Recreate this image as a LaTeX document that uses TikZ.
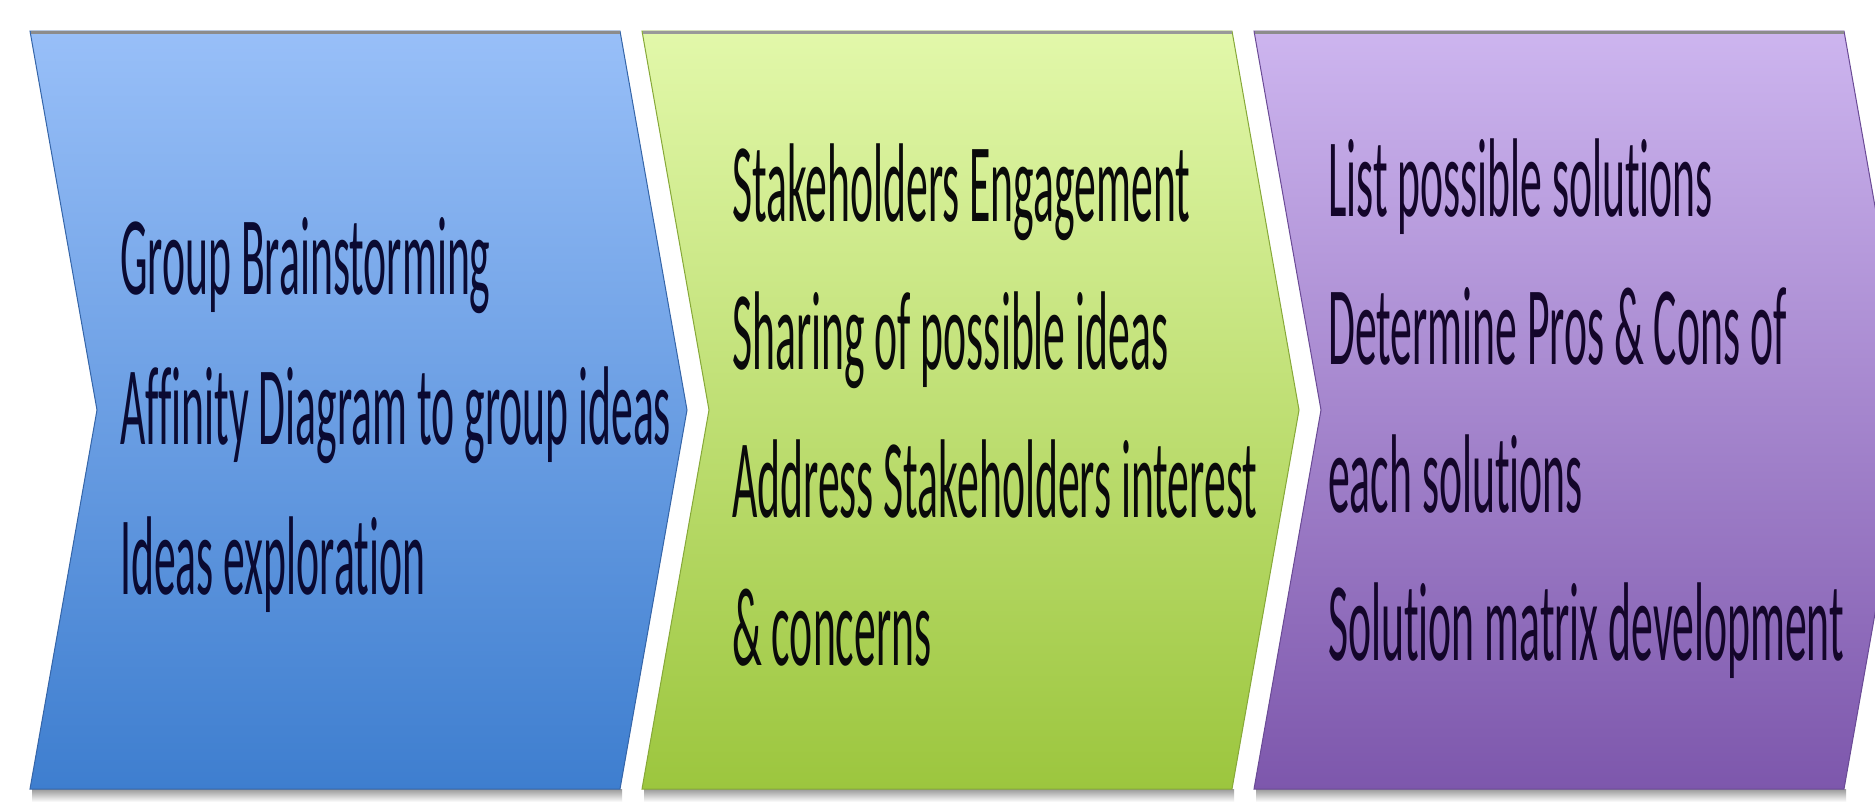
\documentclass[tikz,border=0pt]{standalone}
\usepackage{graphicx}
\usepackage{fontspec}
\setmainfont{Carlito}[RawFeature={-liga;-clig;-dlig}]
\definecolor{bluetop}{HTML}{98BFF8}
\definecolor{bluebot}{HTML}{3E7ECF}
\definecolor{blueedge}{HTML}{3565A8}
\definecolor{greentop}{HTML}{E2F8AA}
\definecolor{greenbot}{HTML}{9CC63E}
\definecolor{greenedge}{HTML}{86A838}
\definecolor{purptop}{HTML}{CDB5EF}
\definecolor{purpbot}{HTML}{7D57AC}
\definecolor{purpedge}{HTML}{6A4A95}
\definecolor{bluetext}{HTML}{0A0A32}
\definecolor{greentext}{HTML}{0A0A0A}
\definecolor{purptext}{HTML}{14062A}
\newcommand{\nar}[1]{\scalebox{0.39}[1]{#1}}
\begin{document}
\begin{tikzpicture}[x=1pt,y=-1pt,
  txt/.style={anchor=base west, inner sep=0pt, font=\fontsize{112}{134}\selectfont},
  chev/.style={line width=1pt},
  topline/.style={line width=3pt, draw=#1},
  shadowbar/.style={top color=black!40, bottom color=white}]
\useasboundingbox (0,0) rectangle (1875,803);
\clip (0,0) rectangle (1875,803);
\fill[white] (0,0) rectangle (1875,803);
% shadows
\shade[shadowbar] (32,789) rectangle (622,802);
\shade[shadowbar] (644,789) rectangle (1234,802);
\shade[shadowbar] (1256,789) rectangle (1846,802);
% chevrons
\shade[chev, top color=bluetop, bottom color=bluebot, draw=blueedge]
  (30,31) -- (620,31) -- (687,410) -- (620,789) -- (30,789) -- (97,410) -- cycle;
\shade[chev, top color=greentop, bottom color=greenbot, draw=greenedge]
  (642,31) -- (1232,31) -- (1299,410) -- (1232,789) -- (642,789) -- (709,410) -- cycle;
\shade[chev, top color=purptop, bottom color=purpbot, draw=purpedge]
  (1254,31) -- (1844,31) -- (1911,410) -- (1844,789) -- (1254,789) -- (1321,410) -- cycle;
\draw[topline=black!45] (31,32) -- (620,32);
\draw[topline=black!40] (643,32) -- (1232,32);
\draw[topline=black!45] (1255,32) -- (1844,32);
% texts
\node[txt, text=bluetext] (b1) at (120,294) {\nar{Group Brainstorming}};
\node[txt, text=bluetext] (b2) at (120,444) {\nar{Affinity Diagram to group ideas}};
\node[txt, text=bluetext] (b3) at (120,594) {\nar{Ideas exploration}};
\node[txt, text=greentext] (g1) at (732,221) {\nar{Stakeholders Engagement}};
\node[txt, text=greentext] (g2) at (732,369) {\nar{Sharing of possible ideas}};
\node[txt, text=greentext] (g3) at (732,517) {\nar{Address Stakeholders interest}};
\node[txt, text=greentext] (g4) at (732,665) {\nar{\& concerns}};
\node[txt, text=purptext] (p1) at (1328,216) {\nar{List possible solutions}};
\node[txt, text=purptext] (p2) at (1328,364) {\nar{Determine Pros \& Cons of}};
\node[txt, text=purptext] (p3) at (1328,512) {\nar{each solutions}};
\node[txt, text=purptext] (p4) at (1328,660) {\nar{Solution matrix development}};
\end{tikzpicture}
\end{document}
